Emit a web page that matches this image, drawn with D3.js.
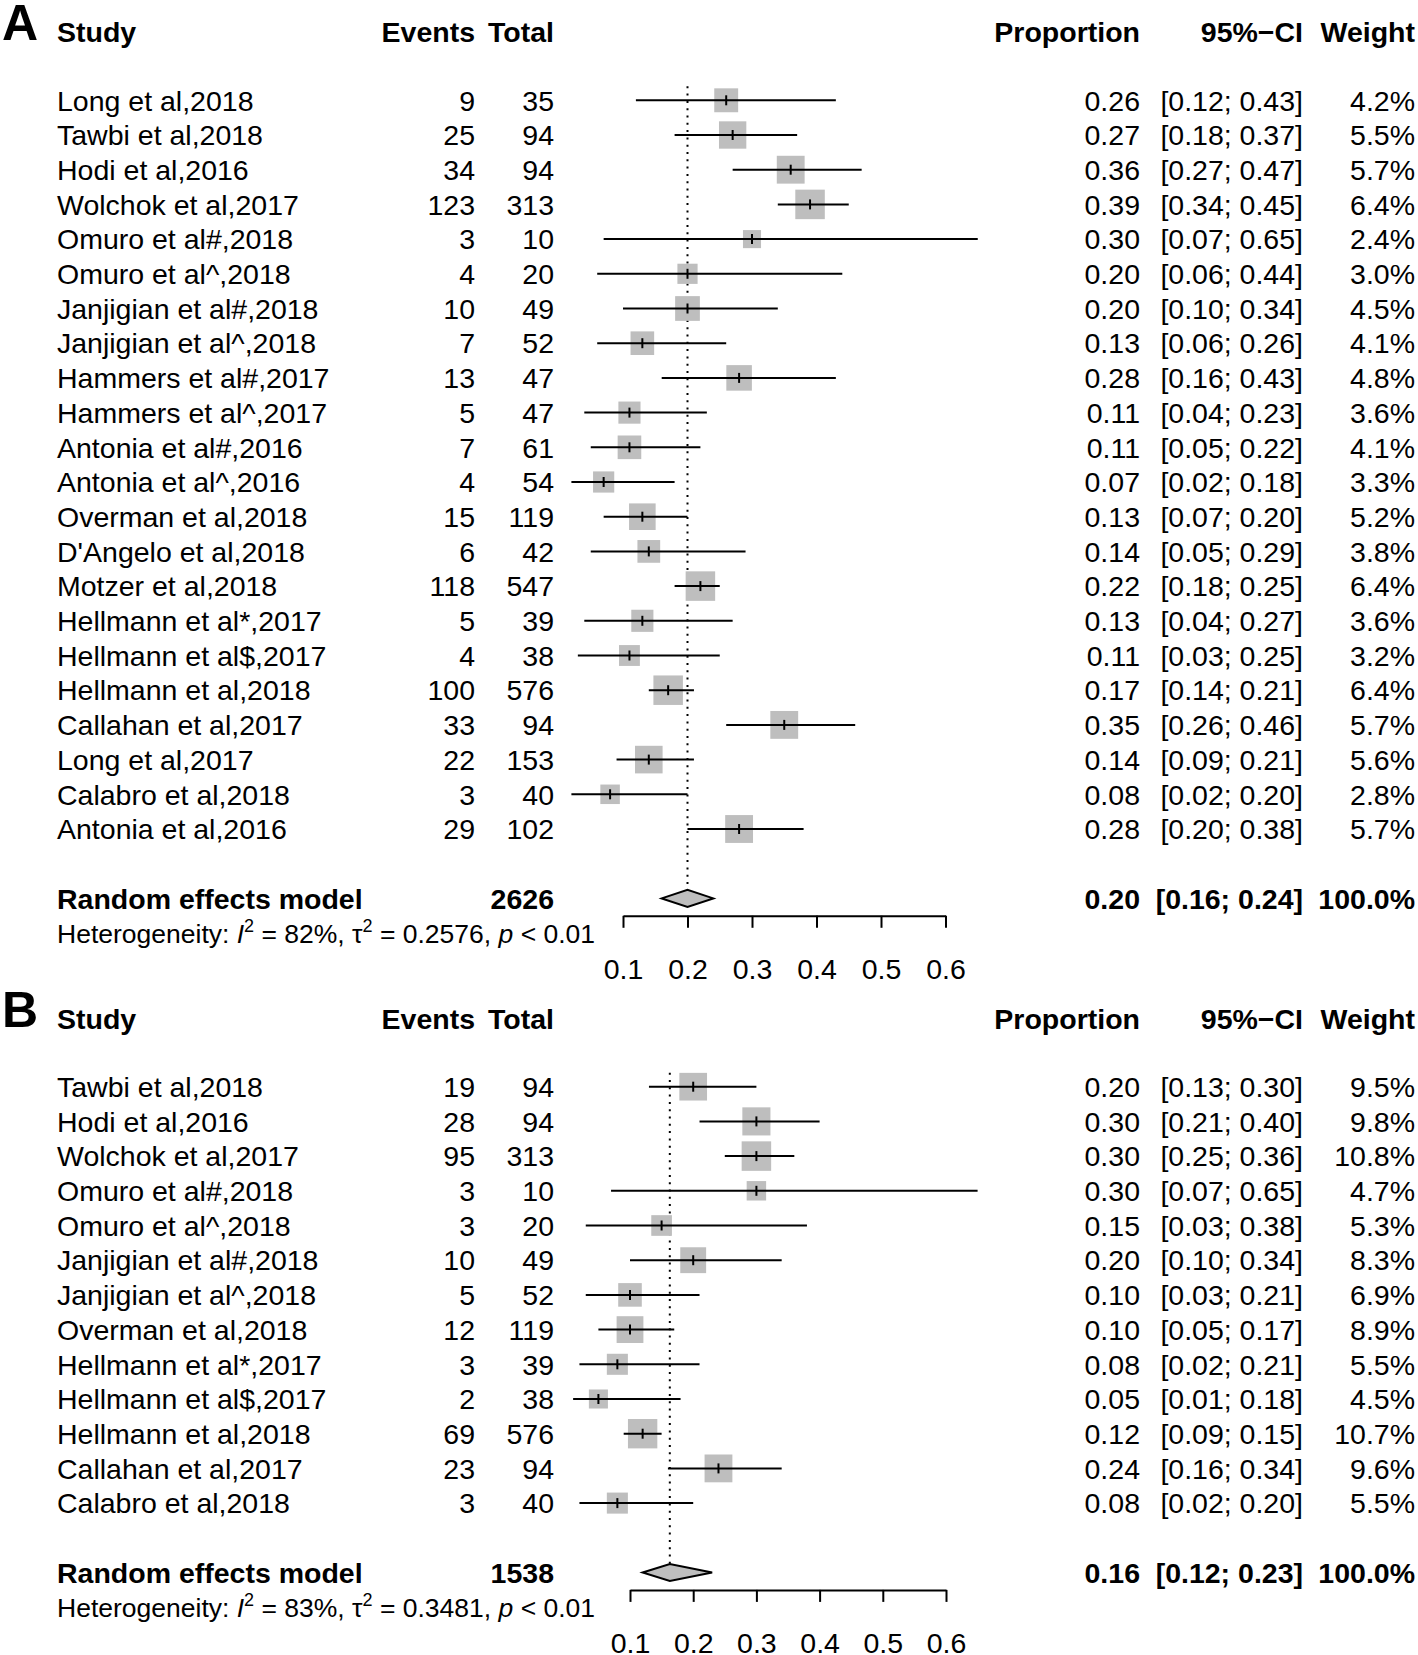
<!DOCTYPE html>
<html>
<head>
<meta charset="utf-8">
<script src="https://cdn.jsdelivr.net/npm/d3@7"></script>
<style>
  body { margin: 0; background: #fff; }
  svg text { font-family: "Liberation Sans", Arial, Helvetica, sans-serif; fill: #000; }
</style>
</head>
<body>
<div class="forest"></div>
<script>
// chart size
const WIDTH = 1418;
const HEIGHT = 1655;

// panel A data
const studiesA = ["Long et al,2018", "Tawbi et al,2018", "Hodi et al,2016", "Wolchok et al,2017",
  "Omuro et al#,2018", "Omuro et al^,2018", "Janjigian et al#,2018", "Janjigian et al^,2018",
  "Hammers et al#,2017", "Hammers et al^,2017", "Antonia et al#,2016", "Antonia et al^,2016",
  "Overman et al,2018", "D'Angelo et al,2018", "Motzer et al,2018", "Hellmann et al*,2017",
  "Hellmann et al$,2017", "Hellmann et al,2018", "Callahan et al,2017", "Long et al,2017",
  "Calabro et al,2018", "Antonia et al,2016"];
const eventsA = [9, 25, 34, 123, 3, 4, 10, 7, 13, 5, 7, 4, 15, 6, 118, 5, 4, 100, 33, 22, 3, 29];
const totalA = [35, 94, 94, 313, 10, 20, 49, 52, 47, 47, 61, 54, 119, 42, 547, 39, 38, 576, 94, 153, 40, 102];
const propA = [0.26, 0.27, 0.36, 0.39, 0.30, 0.20, 0.20, 0.13, 0.28, 0.11, 0.11, 0.07, 0.13, 0.14, 0.22, 0.13, 0.11, 0.17, 0.35, 0.14, 0.08, 0.28];
const lowerA = [0.12, 0.18, 0.27, 0.34, 0.07, 0.06, 0.10, 0.06, 0.16, 0.04, 0.05, 0.02, 0.07, 0.05, 0.18, 0.04, 0.03, 0.14, 0.26, 0.09, 0.02, 0.20];
const upperA = [0.43, 0.37, 0.47, 0.45, 0.65, 0.44, 0.34, 0.26, 0.43, 0.23, 0.22, 0.18, 0.20, 0.29, 0.25, 0.27, 0.25, 0.21, 0.46, 0.21, 0.20, 0.38];
const weightA = [4.2, 5.5, 5.7, 6.4, 2.4, 3.0, 4.5, 4.1, 4.8, 3.6, 4.1, 3.3, 5.2, 3.8, 6.4, 3.6, 3.2, 6.4, 5.7, 5.6, 2.8, 5.7];
const pooledA = { total: 2626, est: 0.20, lower: 0.16, upper: 0.24, i2: "82%", tau2: "0.2576" };

// panel B data
const studiesB = ["Tawbi et al,2018", "Hodi et al,2016", "Wolchok et al,2017", "Omuro et al#,2018",
  "Omuro et al^,2018", "Janjigian et al#,2018", "Janjigian et al^,2018", "Overman et al,2018",
  "Hellmann et al*,2017", "Hellmann et al$,2017", "Hellmann et al,2018", "Callahan et al,2017",
  "Calabro et al,2018"];
const eventsB = [19, 28, 95, 3, 3, 10, 5, 12, 3, 2, 69, 23, 3];
const totalB = [94, 94, 313, 10, 20, 49, 52, 119, 39, 38, 576, 94, 40];
const propB = [0.20, 0.30, 0.30, 0.30, 0.15, 0.20, 0.10, 0.10, 0.08, 0.05, 0.12, 0.24, 0.08];
const lowerB = [0.13, 0.21, 0.25, 0.07, 0.03, 0.10, 0.03, 0.05, 0.02, 0.01, 0.09, 0.16, 0.02];
const upperB = [0.30, 0.40, 0.36, 0.65, 0.38, 0.34, 0.21, 0.17, 0.21, 0.18, 0.15, 0.34, 0.20];
const weightB = [9.5, 9.8, 10.8, 4.7, 5.3, 8.3, 6.9, 8.9, 5.5, 4.5, 10.7, 9.6, 5.5];
const pooledB = { total: 1538, est: 0.163, lower: 0.12, upper: 0.23, i2: "83%", tau2: "0.3481" };

// axis ticks
const tickValues = [0.1, 0.2, 0.3, 0.4, 0.5, 0.6];

// layout constants
const FS = 28.5;
const ROWH = 34.7;
const COL = { study: 57, events: 475, total: 554, prop: 1140, ci: 1303, weight: 1415 };
const BOXMAX = 29.5;
const GREY = "#bebebe";

const svg = d3.select(".forest").append("svg")
  .attr("width", WIDTH)
  .attr("height", HEIGHT);

const f2 = d3.format(".2f");
const f1 = d3.format(".1f");

function drawPanel(p) {
  const g = svg.append("g");
  const x = d3.scaleLinear().domain([0.1, 0.6]).range(p.xRange);
  const size = d3.scaleSqrt().domain([0, d3.max(p.weight)]).range([0, BOXMAX]);
  const rowY = (i) => p.firstRow + i * ROWH;
  const pooledY = rowY(p.studies.length + 1);

  // panel letter and headers
  g.append("text").attr("x", 2).attr("y", p.header + 8)
    .attr("font-size", 50).attr("font-weight", "bold").text(p.letter);
  const heads = [["Study", COL.study, "start"], ["Events", COL.events, "end"], ["Total", COL.total, "end"],
    ["Proportion", COL.prop, "end"], ["95%\u2212CI", COL.ci, "end"], ["Weight", COL.weight, "end"]];
  g.selectAll(".head").data(heads).enter().append("text")
    .attr("x", (d) => d[1]).attr("y", p.header).attr("dy", "0.36em")
    .attr("text-anchor", (d) => d[2])
    .attr("font-size", FS).attr("font-weight", "bold")
    .text((d) => d[0]);

  // dotted line at pooled estimate
  g.append("line")
    .attr("x1", x(p.pooled.est)).attr("x2", x(p.pooled.est))
    .attr("y1", p.firstRow - 14).attr("y2", pooledY - 9)
    .attr("stroke", "#000").attr("stroke-width", 2).attr("stroke-dasharray", "2,5.3");

  const rows = g.selectAll(".row").data(p.studies).enter().append("g")
    .attr("transform", (d, i) => `translate(0,${rowY(i)})`);

  // text columns
  const cols = [
    [COL.study, "start", (d, i) => d],
    [COL.events, "end", (d, i) => p.events[i]],
    [COL.total, "end", (d, i) => p.total[i]],
    [COL.prop, "end", (d, i) => f2(p.prop[i])],
    [COL.ci, "end", (d, i) => `[${f2(p.lower[i])}; ${f2(p.upper[i])}]`],
    [COL.weight, "end", (d, i) => f1(p.weight[i]) + "%"]
  ];
  cols.forEach((c) => {
    rows.append("text").attr("x", c[0]).attr("dy", "0.36em")
      .attr("text-anchor", c[1]).attr("font-size", FS).text(c[2]);
  });

  // squares, CI lines and estimate ticks
  rows.append("rect")
    .attr("x", (d, i) => x(p.prop[i]) - size(p.weight[i]) / 2)
    .attr("y", (d, i) => -size(p.weight[i]) / 2)
    .attr("width", (d, i) => size(p.weight[i]))
    .attr("height", (d, i) => size(p.weight[i]))
    .attr("fill", GREY);
  rows.append("line")
    .attr("x1", (d, i) => x(p.lower[i])).attr("x2", (d, i) => x(p.upper[i]))
    .attr("stroke", "#000").attr("stroke-width", 2);
  rows.append("line")
    .attr("x1", (d, i) => x(p.prop[i])).attr("x2", (d, i) => x(p.prop[i]))
    .attr("y1", -5).attr("y2", 5)
    .attr("stroke", "#000").attr("stroke-width", 2);

  // pooled row
  const pr = g.append("g").attr("transform", `translate(0,${pooledY})`);
  const pooledText = [
    ["Random effects model", COL.study, "start"], [p.pooled.total, COL.total, "end"],
    [f2(p.pooled.est), COL.prop, "end"], [`[${f2(p.pooled.lower)}; ${f2(p.pooled.upper)}]`, COL.ci, "end"],
    ["100.0%", COL.weight, "end"]];
  pr.selectAll("text").data(pooledText).enter().append("text")
    .attr("x", (d) => d[1]).attr("dy", "0.36em").attr("text-anchor", (d) => d[2])
    .attr("font-size", FS).attr("font-weight", "bold").text((d) => d[0]);
  pr.append("path")
    .attr("d", `M${x(p.pooled.lower)},0L${x(p.pooled.est)},-8.5L${x(p.pooled.upper)},0L${x(p.pooled.est)},8.5Z`)
    .attr("fill", GREY).attr("stroke", "#000").attr("stroke-width", 2);

  // heterogeneity line
  const het = g.append("text").attr("x", COL.study).attr("y", pooledY + ROWH)
    .attr("dy", "0.36em").attr("font-size", 26.5);
  het.append("tspan").text("Heterogeneity: ");
  het.append("tspan").attr("font-style", "italic").text("I");
  het.append("tspan").attr("font-size", 18).attr("dy", -11).text("2");
  het.append("tspan").attr("dy", 11).text(" = " + p.pooled.i2 + ", \u03c4");
  het.append("tspan").attr("font-size", 18).attr("dy", -11).text("2");
  het.append("tspan").attr("dy", 11).text(" = " + p.pooled.tau2 + ", ");
  het.append("tspan").attr("font-style", "italic").text("p");
  het.append("tspan").text(" < 0.01");

  // x axis
  const ax = g.append("g").attr("transform", `translate(0,${pooledY + 17.4})`)
    .call(d3.axisBottom(x).tickValues(tickValues).tickFormat(d3.format(".1f"))
      .tickSize(12).tickSizeOuter(0).tickPadding(31));
  ax.select(".domain").attr("stroke-width", 2);
  ax.selectAll(".tick line").attr("stroke-width", 2);
  ax.selectAll(".tick text").attr("font-size", FS)
    .attr("font-family", "\"Liberation Sans\", Arial, sans-serif");
}

drawPanel({ letter: "A", header: 31.7, firstRow: 100.3, xRange: [623, 945.5],
  studies: studiesA, events: eventsA, total: totalA, prop: propA, lower: lowerA,
  upper: upperA, weight: weightA, pooled: pooledA });

drawPanel({ letter: "B", header: 1018.8, firstRow: 1086.7, xRange: [630, 946],
  studies: studiesB, events: eventsB, total: totalB, prop: propB, lower: lowerB,
  upper: upperB, weight: weightB, pooled: pooledB });
</script>
</body>
</html>
